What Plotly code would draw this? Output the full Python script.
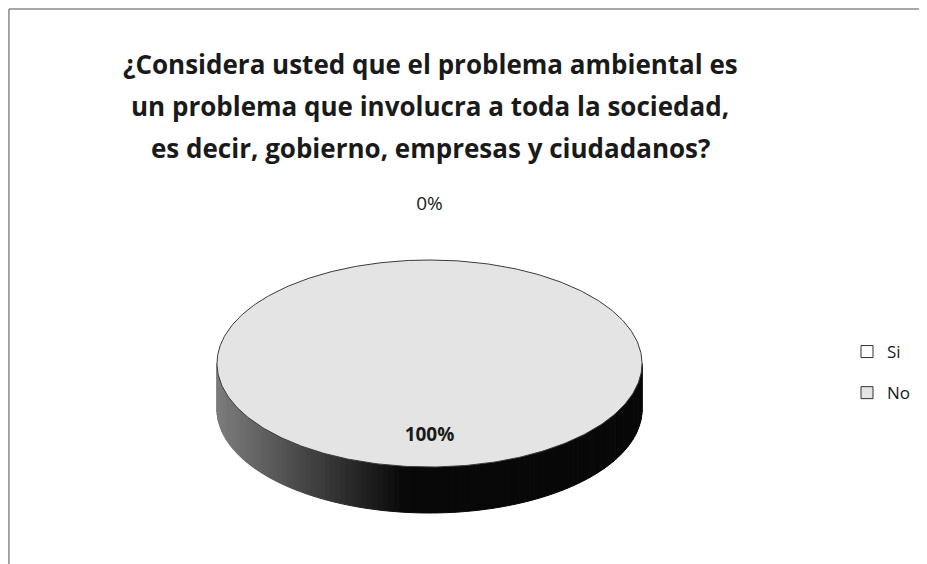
import numpy as np
import plotly.graph_objects as go

# ---- data ----
categories = ["Si", "No"]
values = [0, 100]
slice_colors = ["#ffffff", "#e4e4e4"]
title_lines = [
    "¿Considera usted que el problema ambiental es",
    "un problema que involucra a toda la sociedad,",
    "es decir, gobierno, empresas y ciudadanos?",
]

# ---- page geometry (browser body has an 8px margin) ----
PW, PH = 927, 564
OX, OY = 8, 8
FW, FH = PW - OX, PH - OY


def px(x):  # page x -> paper x
    return (x - OX) / FW


def py(y):  # page y -> paper y
    return 1 - (y - OY) / FH


# data coordinates: x = page x, y = page pixels measured upward from bottom
cx, cy = 429.5, PH - 363.5
rx, ry = 212.5, 103.5
depth = 46

total = float(sum(values))
fracs = [v / total for v in values]
starts = np.cumsum([0.0] + fracs[:-1])


def ell(theta, k=1.0, dz=0.0):
    """point on ellipse; theta clockwise from 12 o'clock"""
    return cx + rx * k * np.sin(theta), cy + ry * k * np.cos(theta) - dz


fig = go.Figure()

# side walls (front half only), shaded from grey (left) to black (right)
for cat, s, f in zip(categories, starts, fracs):
    a0, a1 = 2 * np.pi * s, 2 * np.pi * (s + f)
    lo, hi = max(a0, np.pi / 2), min(a1, 3 * np.pi / 2)
    if hi <= lo:
        continue
    n = max(2, int(120 * (hi - lo) / np.pi))
    edges = np.linspace(lo, hi, n + 1)
    for t0, t1 in zip(edges[:-1], edges[1:]):
        tt = np.linspace(t0, t1, 4)
        xt, yt = ell(tt)
        xb, yb = ell(tt[::-1], dz=depth)
        u = (np.sin((t0 + t1) / 2) + 1) / 2  # 0 = left, 1 = right
        g = int(max(8, 125 * (1 - u / 0.47)))
        col = f"rgb({g},{g},{g})"
        fig.add_trace(go.Scatter(
            x=np.r_[xt, xb, xt[:1]], y=np.r_[yt, yb, yt[:1]],
            mode="lines", fill="toself", fillcolor=col,
            line=dict(color=col, width=1), hoverinfo="skip",
            showlegend=False))

# top faces
for cat, s, f, c in zip(categories, starts, fracs, slice_colors):
    a0, a1 = 2 * np.pi * s, 2 * np.pi * (s + f)
    tt = np.linspace(a0, a1, max(2, int(400 * f)))
    xs, ys = ell(tt)
    if f < 1:
        xs = np.r_[cx, xs, cx]
        ys = np.r_[cy, ys, cy]
    fig.add_trace(go.Scatter(
        x=xs, y=ys, mode="lines", fill="toself", fillcolor=c,
        line=dict(color="#3a3a3a", width=1), name=cat,
        legendgroup=cat, showlegend=False, hoverinfo="skip"))

# data labels
lx, ly, lt = [], [], []
for s, f in zip(starts, fracs):
    m = 2 * np.pi * (s + f / 2)
    k = 1.53 if f < 0.05 else 0.70
    x, y = ell(m, k=k)
    lx.append(x)
    ly.append(y)
    txt = f"{round(f * 100)}%"
    lt.append(txt if f < 0.05 else f"<b>{txt}</b>")
fig.add_trace(go.Scatter(
    x=lx, y=ly, text=lt, mode="text",
    textfont=dict(family="Open Sans", size=19, color="#1a1a1a"),
    showlegend=False, hoverinfo="skip"))

# legend entries
for cat, c in zip(categories, slice_colors):
    fig.add_trace(go.Scatter(
        x=[None], y=[None], mode="markers", name=cat, legendgroup=cat,
        marker=dict(symbol="square", size=12, color=c,
                    line=dict(color="#333333", width=1))))

# title lines
for i, line in enumerate(title_lines):
    fig.add_annotation(
        text=f"<b>{line}</b>", x=px(430), y=py(64 + 42 * i),
        xref="paper", yref="paper", xanchor="center", yanchor="middle",
        showarrow=False,
        font=dict(family="Open Sans", size=26, color="#1a1a1a"))

# frame lines (figure edge = page offset)
fig.add_shape(type="line", xref="paper", yref="paper",
              x0=0.001, x1=1.0, y0=0.998, y1=0.998,
              line=dict(color="#8a8a8a", width=1.5))
fig.add_shape(type="line", xref="paper", yref="paper",
              x0=0.001, x1=0.001, y0=0.0, y1=0.998,
              line=dict(color="#8a8a8a", width=1.5))

fig.update_layout(
    width=FW, height=FH,
    margin=dict(l=0, r=0, t=0, b=0),
    paper_bgcolor="white", plot_bgcolor="white",
    xaxis=dict(range=[OX, PW], visible=False, fixedrange=True),
    yaxis=dict(range=[0, FH], visible=False, fixedrange=True),
    legend=dict(x=px(847), y=py(334), xanchor="left", yanchor="top",
                font=dict(family="Open Sans", size=17, color="#1a1a1a"),
                tracegroupgap=16, bgcolor="rgba(0,0,0,0)"),
    showlegend=True,
)

fig.write_html("out.html")
